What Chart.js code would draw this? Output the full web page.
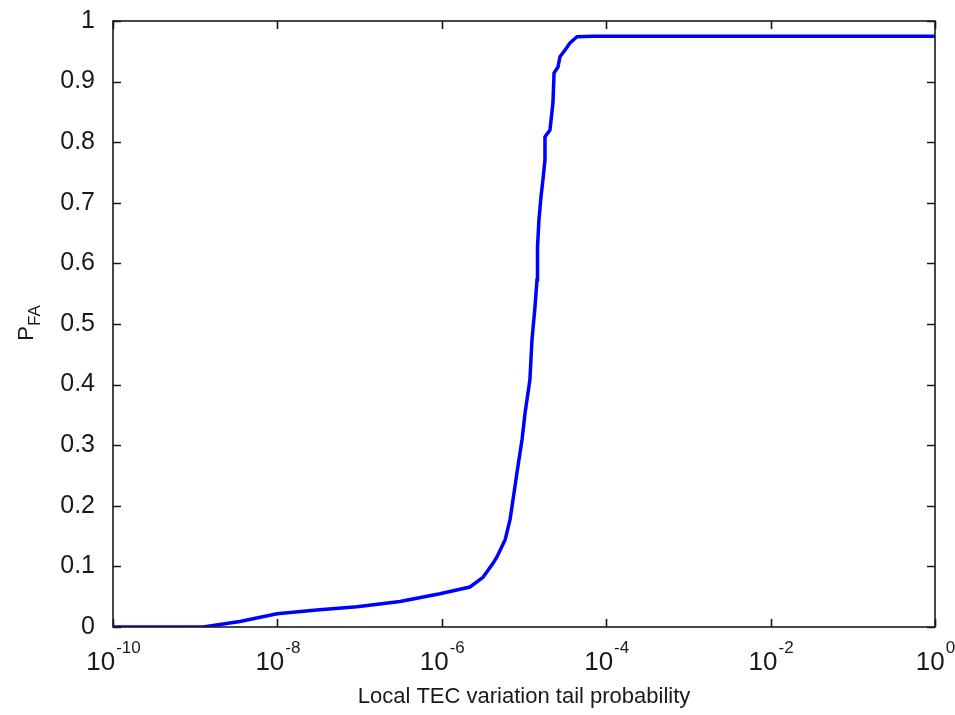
<!DOCTYPE html>
<html>
<head>
<meta charset="utf-8">
<script src="https://cdn.jsdelivr.net/npm/chart.js@4.4.0/dist/chart.umd.min.js"></script>
<style>
  html, body { margin: 0; padding: 0; background: #fff; }
  #wrap { width: 955px; height: 715px; }
</style>
</head>
<body>
<div id="wrap"><canvas id="pfaChart" width="955" height="715"></canvas></div>
<script>
// values (x = tail probability, y = P_FA)
const tailProb = [1e-10, 1.245e-9, 3.5e-9, 9.9e-9, 3.0e-8, 9.3e-8, 3.1e-7, 9.5e-7, 2.2e-6, 3.17e-6,
    4.2e-6, 4.7e-6, 5.9e-6, 6.76e-6, 7.35e-6, 8.2e-6, 9.46e-6, 1.03e-5, 1.18e-5, 1.25e-5,
    1.36e-5, 1.44e-5, 1.46e-5, 1.52e-5, 1.61e-5, 1.70e-5, 1.80e-5, 1.80e-5, 2.07e-5, 2.25e-5,
    2.32e-5, 2.59e-5, 2.74e-5, 3.16e-5, 3.63e-5, 4.42e-5, 6.9e-5, 1];
const pfa = [0, 0, 0.009, 0.022, 0.028, 0.0335, 0.042, 0.055, 0.066, 0.082,
    0.105, 0.116, 0.144, 0.177, 0.21, 0.254, 0.309, 0.353, 0.408, 0.474,
    0.528, 0.573, 0.627, 0.672, 0.71, 0.738, 0.771, 0.809, 0.82, 0.865,
    0.914, 0.924, 0.941, 0.952, 0.964, 0.974, 0.975, 0.975];
const xTickExps = [-10, -8, -6, -4, -2, 0];
const yTicks = [0, 0.1, 0.2, 0.3, 0.4, 0.5, 0.6, 0.7, 0.8, 0.9, 1];

const FONT = 'Liberation Sans, Arial, sans-serif';
const INK = '#1a1a1a';

let points = [];
for (let i = 0; i < tailProb.length; i++) {
    points.push({ x: tailProb[i], y: pfa[i] });
}

// box, inward ticks, power-of-ten labels and axis titles, matlab style
const matlabAxes = {
    id: 'matlabAxes',
    afterDraw(chart) {
        const ctx = chart.ctx;
        const a = chart.chartArea;
        const xs = chart.scales.x;
        const ys = chart.scales.y;
        const tl = 8;
        ctx.save();
        ctx.strokeStyle = INK;
        ctx.lineWidth = 1.6;
        ctx.strokeRect(a.left, a.top, a.right - a.left, a.bottom - a.top);

        ctx.beginPath();
        xTickExps.forEach(e => {
            let px = Math.round(xs.getPixelForValue(Math.pow(10, e))) + 0.5;
            ctx.moveTo(px, a.bottom); ctx.lineTo(px, a.bottom - tl);
            ctx.moveTo(px, a.top); ctx.lineTo(px, a.top + tl);
        });
        yTicks.forEach(v => {
            let py = Math.round(ys.getPixelForValue(v)) + 0.5;
            ctx.moveTo(a.left, py); ctx.lineTo(a.left + tl, py);
            ctx.moveTo(a.right, py); ctx.lineTo(a.right - tl, py);
        });
        ctx.stroke();

        // x tick labels 10^e
        ctx.fillStyle = INK;
        ctx.textBaseline = 'alphabetic';
        ctx.textAlign = 'left';
        xTickExps.forEach(e => {
            let px = xs.getPixelForValue(Math.pow(10, e));
            ctx.font = '26px ' + FONT;
            let wBase = ctx.measureText('10').width;
            ctx.font = '17px ' + FONT;
            let expTxt = e === 0 ? '0' : '-' + Math.abs(e);
            let wExp = ctx.measureText(expTxt).width;
            let x0 = px - (wBase + wExp) / 2;
            ctx.font = '26px ' + FONT;
            ctx.fillText('10', x0, 670);
            ctx.font = '17px ' + FONT;
            ctx.fillText(expTxt, x0 + wBase + 1, 653);
        });

        // x title
        ctx.font = '22px ' + FONT;
        ctx.textAlign = 'center';
        ctx.fillText('Local TEC variation tail probability', (a.left + a.right) / 2, 703);

        // y title P_FA
        ctx.translate(33, 323);
        ctx.rotate(-Math.PI / 2);
        ctx.font = '22px ' + FONT;
        let wP = ctx.measureText('P').width;
        ctx.font = '17px ' + FONT;
        let wFA = ctx.measureText('FA').width;
        let sx = -(wP + wFA) / 2;
        ctx.textAlign = 'left';
        ctx.font = '22px ' + FONT;
        ctx.fillText('P', sx, 0);
        ctx.font = '17px ' + FONT;
        ctx.fillText('FA', sx + wP, 7);
        ctx.restore();
    }
};

new Chart(document.getElementById('pfaChart'), {
    type: 'line',
    data: {
        datasets: [{
            data: points,
            borderColor: '#0000ff',
            borderWidth: 3.5,
            pointRadius: 0,
            tension: 0,
            fill: false
        }]
    },
    options: {
        responsive: false,
        animation: false,
        layout: { padding: { left: 0, right: 20, top: 21, bottom: 0 } },
        plugins: { legend: { display: false }, tooltip: { enabled: false } },
        scales: {
            x: {
                type: 'logarithmic',
                min: 1e-10,
                max: 1,
                grid: { display: false },
                border: { display: false },
                ticks: { display: false },
                afterBuildTicks: scale => {
                    scale.ticks = xTickExps.map(e => ({ value: Math.pow(10, e) }));
                },
                afterFit: scale => { scale.height = 88; }
            },
            y: {
                min: 0,
                max: 1,
                grid: { display: false },
                border: { display: false },
                ticks: {
                    color: INK,
                    font: { family: FONT, size: 25 },
                    padding: 10,
                    callback: v => String(Math.round(v * 10) / 10)
                },
                afterBuildTicks: scale => {
                    scale.ticks = yTicks.map(v => ({ value: v }));
                },
                afterFit: scale => {
                    scale.width = 113;
                    scale.paddingTop = 0;
                    scale.paddingBottom = 0;
                }
            }
        }
    },
    plugins: [matlabAxes]
});
</script>
</body>
</html>
